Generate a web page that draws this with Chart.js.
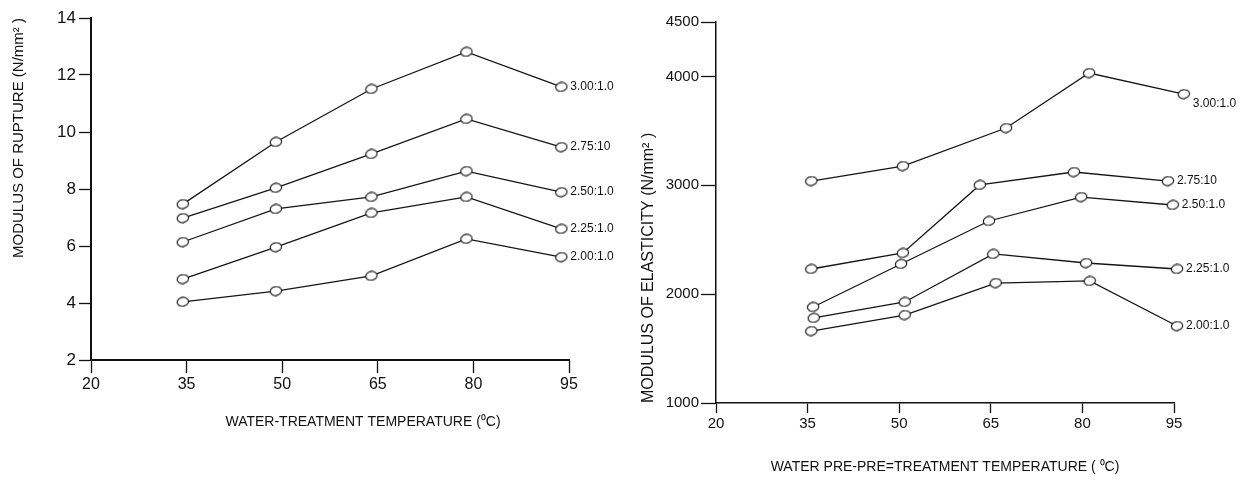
<!DOCTYPE html>
<html>
<head>
<meta charset="utf-8">
<script src="https://cdn.jsdelivr.net/npm/chart.js@4.4.1/dist/chart.umd.min.js"></script>
<style>
  html, body { margin: 0; padding: 0; background: #fff; }
  #wrap { position: relative; width: 1244px; height: 482px; overflow: hidden; }
  #mor-chart { position: absolute; left: 0; top: 0; }
  #moe-chart { position: absolute; left: 622px; top: 0; }
</style>
</head>
<body>
<div id="wrap">
  <canvas id="mor-chart" width="650" height="482"></canvas>
  <canvas id="moe-chart" width="622" height="482"></canvas>
</div>
<script>
// tick labels
const tempTicks = [20, 35, 50, 65, 80, 95];
const morTicks = [2, 4, 6, 8, 10, 12, 14];
const moeTicks = [1000, 2000, 3000, 4000, 4500];

// left: modulus of rupture (N/mm2)
const morTemps = [34.4, 49.0, 64.0, 78.9, 93.8];
const mor300 = [7.47, 9.65, 11.51, 12.81, 11.58];
const mor275 = [6.98, 8.04, 9.23, 10.46, 9.47];
const mor250 = [6.14, 7.30, 7.72, 8.63, 7.89];
const mor225 = [4.84, 5.96, 7.16, 7.72, 6.60];
const mor200 = [4.04, 4.42, 4.95, 6.25, 5.61];

// right: modulus of elasticity (N/mm2), points sit a little off the nominal temps
const moeTemp300 = [35.6, 50.6, 67.5, 81.1, 96.6];
const moe300 = [3039, 3177, 3526, 4031, 3838];
const moeTemp275 = [35.6, 50.6, 63.2, 78.6, 94.0];
const moe275 = [2231, 2378, 3003, 3122, 3039];
const moeTemp250 = [35.9, 50.3, 64.7, 79.8, 94.8];
const moe250 = [1882, 2277, 2672, 2892, 2819];
const moeTemp225 = [36.0, 50.9, 65.4, 80.6, 95.5];
const moe225 = [1781, 1928, 2369, 2286, 2231];
const moeTemp200 = [35.6, 50.9, 65.8, 81.2, 95.5];
const moe200 = [1661, 1808, 2102, 2121, 1707];

const FONT = "'Liberation Sans', Arial, sans-serif";
const INK = "#111";
Chart.defaults.font.family = FONT;
Chart.defaults.color = INK;

// open ellipse marker like the hand-drawn circles
function ellipseMarker() {
  const c = document.createElement("canvas");
  c.width = 14;
  c.height = 11;
  const g = c.getContext("2d");
  g.beginPath();
  g.ellipse(7, 5.5, 5.7, 4.4, -0.15, 0, Math.PI * 2);
  g.fillStyle = "#fff";
  g.fill();
  g.strokeStyle = INK;
  g.lineWidth = 1.1;
  g.stroke();
  return c;
}
const marker = ellipseMarker();

function series(label, temps, values, labelDy) {
  return {
    label: label,
    data: temps.map((t, i) => ({ x: t, y: values[i] })),
    borderColor: "#151515",
    borderWidth: 1.3,
    pointStyle: marker,
    // image markers ignore the radius; a big one just keeps the last points
    // (drawn a bit past 95) from being culled at the chart edge
    pointRadius: 12,
    tension: 0,
    clip: false,
    labelDy: labelDy || 0,
  };
}

// ratio label written next to the last point of each line
const endLabels = {
  id: "endLabels",
  afterDatasetsDraw(chart) {
    const ctx = chart.ctx;
    ctx.save();
    ctx.font = "12px " + FONT;
    ctx.fillStyle = INK;
    ctx.textBaseline = "middle";
    chart.data.datasets.forEach((ds, i) => {
      const pts = chart.getDatasetMeta(i).data;
      const last = pts[pts.length - 1];
      ctx.fillText(ds.label, last.x + 9, last.y + ds.labelDy);
    });
    ctx.restore();
  },
};

// x title that sits off-centre under the axis (left panel)
const shiftedTitle = {
  id: "shiftedTitle",
  afterDraw(chart, args, opts) {
    if (!opts.text) return;
    const a = chart.chartArea;
    const ctx = chart.ctx;
    ctx.save();
    ctx.font = opts.size + "px " + FONT;
    ctx.fillStyle = INK;
    ctx.textAlign = "center";
    ctx.textBaseline = "middle";
    ctx.fillText(opts.text, (a.left + a.right) / 2 + opts.dx, a.bottom + opts.dy);
    ctx.restore();
  },
};

function axisX(title, o) {
  return {
    type: "linear",
    min: 20,
    max: 95,
    afterBuildTicks: (s) => { s.ticks = tempTicks.map((v) => ({ value: v })); },
    afterFit: (s) => { s.height = o.height; },
    ticks: { font: { size: o.tickSize }, color: INK, padding: o.tickPad, maxRotation: 0, callback: (v) => String(v) },
    grid: { drawOnChartArea: false, tickLength: o.tickLen, tickColor: INK, tickWidth: 1.3 },
    border: { color: INK, width: o.axisWidth },
    title: { display: !!title, text: title, font: { size: 14 }, color: INK, padding: { top: 0, bottom: o.titlePad } },
  };
}

function axisY(title, o) {
  return {
    type: "linear",
    min: o.min,
    max: o.max,
    afterBuildTicks: (s) => { s.ticks = o.ticks.map((v) => ({ value: v })); },
    afterFit: (s) => { s.width = o.width; },
    ticks: { font: { size: o.tickSize }, color: INK, padding: o.tickPad, callback: (v) => String(v) },
    grid: { drawOnChartArea: false, tickLength: o.tickLen, tickColor: INK, tickWidth: 1.3 },
    border: { color: INK, width: o.axisWidth },
    title: { display: true, text: title, align: o.titleAlign, font: { size: o.titleSize }, color: INK, padding: { top: o.titlePad, bottom: 0 } },
  };
}

const common = {
  responsive: false,
  animation: false,
  events: [],
};

new Chart(document.getElementById("mor-chart"), {
  type: "line",
  data: {
    datasets: [
      series("3.00:1.0", morTemps, mor300),
      series("2.75:10", morTemps, mor275),
      series("2.50:1.0", morTemps, mor250),
      series("2.25:1.0", morTemps, mor225),
      series("2.00:1.0", morTemps, mor200),
    ],
  },
  options: Object.assign({}, common, {
    layout: { padding: { left: 0, top: 18, right: 81, bottom: 0 } },
    plugins: {
      legend: { display: false },
      tooltip: { enabled: false },
      shiftedTitle: { text: "WATER-TREATMENT TEMPERATURE (\u2070C)", size: 14, dx: 33, dy: 62 },
    },
    scales: {
      x: axisX("", {
        height: 122, tickSize: 16, tickPad: 2, tickLen: 13, axisWidth: 2, titlePad: 0,
      }),
      y: axisY("MODULUS OF RUPTURE (N/mm\u00b2 )", {
        min: 2, max: 14, ticks: morTicks, width: 91, tickSize: 17, tickPad: 3, tickLen: 12,
        axisWidth: 2, titleAlign: "end", titleSize: 15, titlePad: 10,
      }),
    },
  }),
  plugins: [endLabels, shiftedTitle],
});

new Chart(document.getElementById("moe-chart"), {
  type: "line",
  data: {
    datasets: [
      series("3.00:1.0", moeTemp300, moe300, 10),
      series("2.75:10", moeTemp275, moe275),
      series("2.50:1.0", moeTemp250, moe250),
      series("2.25:1.0", moeTemp225, moe225),
      series("2.00:1.0", moeTemp200, moe200),
    ],
  },
  options: Object.assign({}, common, {
    layout: { padding: { left: 0, top: 22, right: 70, bottom: 0 } },
    plugins: { legend: { display: false }, tooltip: { enabled: false } },
    scales: {
      x: axisX("WATER PRE-PRE=TREATMENT TEMPERATURE ( \u2070C)", {
        height: 79, tickSize: 15, tickPad: 2, tickLen: 10, axisWidth: 1.5, titlePad: 6.6,
      }),
      y: axisY("MODULUS OF ELASTICITY (N/mm\u00b2 )", {
        min: 1000, max: 4500, ticks: moeTicks, width: 94, tickSize: 15, tickPad: 2, tickLen: 15,
        axisWidth: 1.5, titleAlign: "start", titleSize: 16, titlePad: 17,
      }),
    },
  }),
  plugins: [endLabels],
});
</script>
</body>
</html>
